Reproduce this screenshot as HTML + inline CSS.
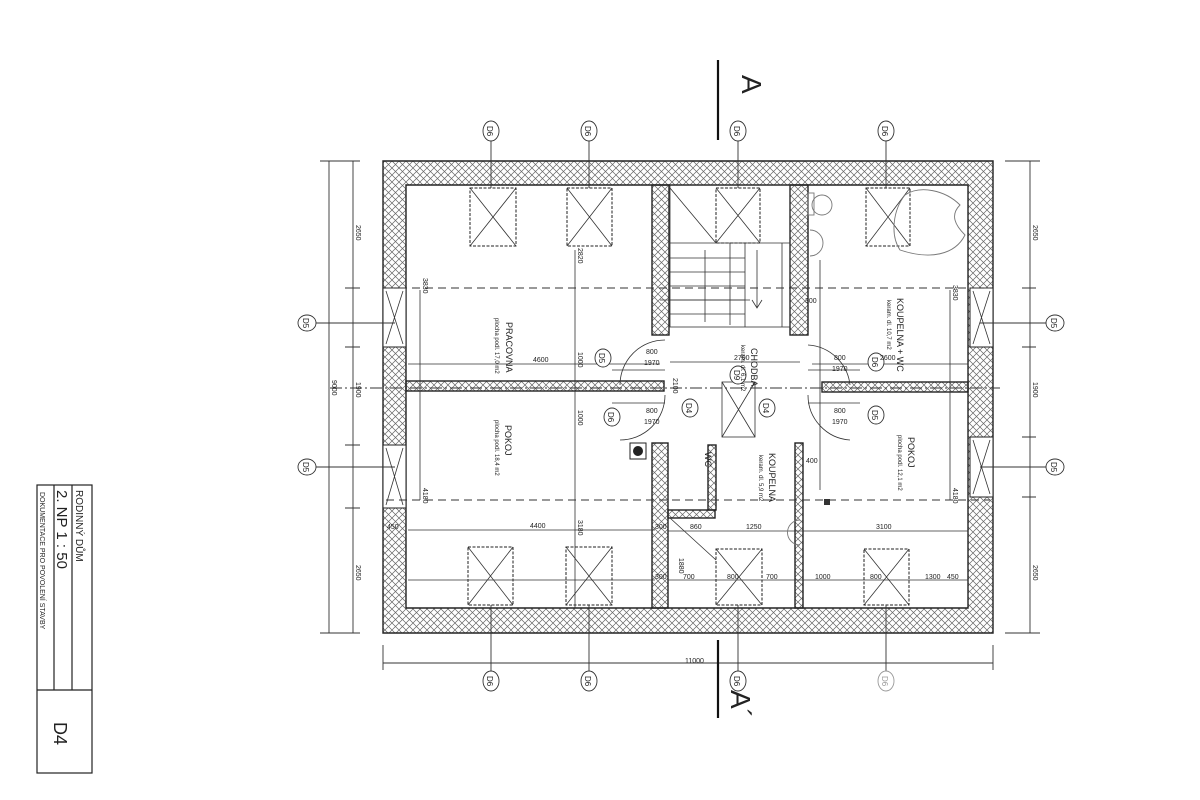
<!DOCTYPE html>
<html><head><meta charset="utf-8"><style>
html,body{margin:0;padding:0;background:#fff;}
svg{display:block;font-family:"Liberation Sans",sans-serif;}
</style></head><body>
<svg width="1200" height="800" viewBox="0 0 1200 800" xmlns="http://www.w3.org/2000/svg">
<defs>
<pattern id="h" width="7" height="7" patternUnits="userSpaceOnUse">
<path d="M0 0L7 7M7 0L0 7" stroke="#666" stroke-width="0.7"/>
</pattern>
</defs>
<rect width="1200" height="800" fill="#fff"/>
<g stroke="#222" stroke-width="1.4" fill="url(#h)">
<path fill-rule="evenodd" d="M383 161H993V633H383Z M406 185H968V608H406Z"/>
<rect x="652" y="185" width="17" height="150"/>
<rect x="790" y="185" width="18" height="150"/>
<rect x="652" y="443" width="16" height="165"/>
<rect x="406" y="381" width="258" height="10"/>
<rect x="822" y="382" width="146" height="10"/>
<rect x="795" y="443" width="8" height="165"/>
<rect x="668" y="510" width="47" height="8"/>
<rect x="708" y="445" width="8" height="65"/>
</g>
<g fill="#fff" stroke="#222" stroke-width="1">
<rect x="383" y="288" width="23" height="59"/>
<rect x="383" y="445" width="23" height="63"/>
<rect x="970" y="288" width="23" height="59"/>
<rect x="970" y="437" width="23" height="60"/>
</g>
<g stroke="#333" stroke-width="0.8" fill="none">
<path d="M386 291L403 344M403 291L386 344M386 448L403 505M403 448L386 505M973 291L990 344M990 291L973 344M973 440L990 494M990 440L973 494"/>
</g>
<g stroke="#222" stroke-width="1" fill="none" stroke-dasharray="3 1.5">
<rect x="470" y="188" width="46" height="58"/><rect x="567" y="188" width="45" height="58"/>
<rect x="716" y="188" width="44" height="55"/><rect x="866" y="188" width="44" height="58"/>
<rect x="468" y="547" width="45" height="58"/><rect x="566" y="547" width="46" height="58"/>
<rect x="716" y="549" width="46" height="56"/><rect x="864" y="549" width="45" height="56"/>
</g>
<g stroke="#333" stroke-width="0.8">
<path d="M470 188L516 246M516 188L470 246M567 188L612 246M612 188L567 246M716 188L760 243M760 188L716 243M866 188L910 246M910 188L866 246"/>
<path d="M468 547L513 605M513 547L468 605M566 547L612 605M612 547L566 605M716 549L762 605M762 549L716 605M864 549L909 605M909 549L864 605"/>
<path d="M670 188L716 243M670 518L716 560"/>
</g>
<g stroke="#333" stroke-width="0.8" fill="none">
<rect x="670" y="185" width="120" height="142"/>
<path d="M670 243H790M670 258H745M670 272H745M670 286H745M670 300H745M670 314H745M745 243V327M730 243V325M705 250V322M782 243V327M752 300L757 308L762 300M757 250V308"/>
<rect x="722" y="382" width="33" height="55"/>
<path d="M722 382L755 437M755 382L722 437"/>
</g>
<g stroke="#333" stroke-width="1" stroke-dasharray="8 5" fill="none">
<path d="M386 288H990M386 500H990"/>
<path d="M330 388H1000" stroke-dasharray="12 3 2 3"/>
</g>
<g stroke="#333" stroke-width="0.8" fill="none">
<path d="M665 340A45 45 0 0 0 620 385M665 395A45 45 0 0 1 620 440M808 345A45 45 0 0 1 850 385M808 395A45 45 0 0 0 850 440"/>
<path d="M612 370H665M612 403H665M808 370H860M808 403H860"/>
<path d="M408 364H660M670 362H800M812 364H968M408 530H655M668 531H968M408 580H655M668 580H968M575 250V608M820 260V490M420 290V500M950 290V500M660 300H750"/>
</g>
<g stroke="#777" stroke-width="0.9" fill="none">
<path d="M905 195C920 185 945 190 960 205C950 215 955 225 965 235C955 255 930 260 900 250C890 235 893 210 905 195Z"/>
<ellipse cx="822" cy="205" rx="10" ry="10"/><rect x="808" y="193" width="6" height="22"/>
<path d="M810 230a10 10 0 0 1 0 26"/>
<path d="M800 520a12 12 0 0 0 0 25"/>
</g>
<rect x="630" y="443" width="16" height="16" fill="#fff" stroke="#222"/>
<circle cx="638" cy="451" r="5" fill="#222"/>
<rect x="824" y="499" width="6" height="6" fill="#333"/>
<g stroke="#333" stroke-width="0.9" fill="none">
<path d="M329 161V633M353 161V633M1030 161V633M383 663H993M383 645V670M993 645V670M320 161H360M320 633H360M1005 161H1040M1005 633H1040M345 288H360M345 347H360M345 445H360M345 508H360M1022 288H1036M1022 347H1036M1022 437H1036M1022 497H1036"/>
<path d="M718 60V140M718 640V718" stroke-width="2.2" stroke="#111"/>
</g>
<g stroke="#333" stroke-width="0.9" fill="#fff">
<path d="M491 140V188M589 140V188M738 140V188M886 140V188M491 605V672M589 605V672M738 605V672M886 605V672M316 323H395M316 467H395M980 323H1046M980 467H1046"/>
<ellipse cx="491" cy="131" rx="8" ry="10"/><ellipse cx="589" cy="131" rx="8" ry="10"/><ellipse cx="738" cy="131" rx="8" ry="10"/><ellipse cx="886" cy="131" rx="8" ry="10"/>
<ellipse cx="491" cy="681" rx="8" ry="10"/><ellipse cx="589" cy="681" rx="8" ry="10"/><ellipse cx="738" cy="681" rx="8" ry="10"/><ellipse cx="886" cy="681" rx="8" ry="10" stroke="#999"/>
<ellipse cx="307" cy="323" rx="9" ry="8"/><ellipse cx="307" cy="467" rx="9" ry="8"/><ellipse cx="1055" cy="323" rx="9" ry="8"/><ellipse cx="1055" cy="467" rx="9" ry="8"/>
<ellipse cx="603" cy="358" rx="8" ry="9"/><ellipse cx="612" cy="417" rx="8" ry="9"/><ellipse cx="876" cy="362" rx="8" ry="9"/><ellipse cx="876" cy="415" rx="8" ry="9"/>
<ellipse cx="690" cy="408" rx="8" ry="9"/><ellipse cx="767" cy="408" rx="8" ry="9"/><ellipse cx="738" cy="375" rx="8" ry="9"/>
</g>
<g fill="#222" font-size="8">
<g font-size="8">
<text transform="translate(487,126) rotate(90)">D6</text><text transform="translate(585,126) rotate(90)">D6</text><text transform="translate(734,126) rotate(90)">D6</text><text transform="translate(882,126) rotate(90)">D6</text>
<text transform="translate(487,676) rotate(90)">D6</text><text transform="translate(585,676) rotate(90)">D6</text><text transform="translate(734,676) rotate(90)">D6</text><text transform="translate(882,676) rotate(90)" fill="#999">D6</text>
<text transform="translate(303,318) rotate(90)">D5</text><text transform="translate(303,462) rotate(90)">D5</text><text transform="translate(1051,318) rotate(90)">D5</text><text transform="translate(1051,462) rotate(90)">D5</text>
<text transform="translate(599,353) rotate(90)">D5</text><text transform="translate(608,412) rotate(90)">D6</text><text transform="translate(872,357) rotate(90)">D6</text><text transform="translate(872,410) rotate(90)">D5</text>
<text transform="translate(686,403) rotate(90)">D4</text><text transform="translate(763,403) rotate(90)">D4</text><text transform="translate(734,370) rotate(90)">D9</text>
</g>
<text transform="translate(742,75) rotate(90)" font-size="28">A</text>
<text transform="translate(731,690) rotate(90)" font-size="28">A´</text>
<g font-size="9">
<text transform="translate(506,322) rotate(90)">PRACOVNA</text>
<text transform="translate(495,318) rotate(90)" font-size="6">plocha podl. 17,0 m2</text>
<text transform="translate(505,425) rotate(90)">POKOJ</text>
<text transform="translate(495,420) rotate(90)" font-size="6">plocha podl. 18,4 m2</text>
<text transform="translate(751,348) rotate(90)">CHODBA</text>
<text transform="translate(741,345) rotate(90)" font-size="6">keram. dl. 6,1 m2</text>
<text transform="translate(897,298) rotate(90)">KOUPELNA + WC</text>
<text transform="translate(887,300) rotate(90)" font-size="6">keram. dl. 10,7 m2</text>
<text transform="translate(908,437) rotate(90)">POKOJ</text>
<text transform="translate(898,435) rotate(90)" font-size="6">plocha podl. 12,1 m2</text>
<text transform="translate(769,453) rotate(90)">KOUPELNA</text>
<text transform="translate(759,455) rotate(90)" font-size="6">keram. dl. 5,9 m2</text>
<text transform="translate(705,452) rotate(90)">WC</text>
</g>
<g font-size="7">
<text x="533" y="362">4600</text><text x="530" y="528">4400</text><text x="734" y="360">2700</text><text x="880" y="360">2600</text>
<text x="646" y="354">800</text><text x="644" y="365">1970</text><text x="646" y="413">800</text><text x="644" y="424">1970</text>
<text x="834" y="360">800</text><text x="832" y="371">1970</text><text x="834" y="413">800</text><text x="832" y="424">1970</text>
<text x="690" y="529">860</text><text x="746" y="529">1250</text><text x="876" y="529">3100</text><text x="655" y="529">300</text><text x="387" y="529">450</text>
<text x="655" y="579">300</text><text x="683" y="579">700</text><text x="727" y="579">800</text><text x="766" y="579">700</text><text x="815" y="579">1000</text><text x="870" y="579">800</text><text x="925" y="579">1300</text><text x="947" y="579">450</text>
<text x="805" y="303">300</text><text x="806" y="463">400</text><text x="685" y="663">11000</text>
<text transform="translate(356,225) rotate(90)">2650</text><text transform="translate(1033,225) rotate(90)">2650</text>
<text transform="translate(356,565) rotate(90)">2650</text><text transform="translate(1033,565) rotate(90)">2650</text>
<text transform="translate(332,380) rotate(90)">9000</text><text transform="translate(356,382) rotate(90)">1900</text><text transform="translate(1033,382) rotate(90)">1900</text>
<text transform="translate(578,248) rotate(90)">2820</text><text transform="translate(578,352) rotate(90)">1000</text><text transform="translate(578,410) rotate(90)">1000</text><text transform="translate(578,520) rotate(90)">3180</text>
<text transform="translate(423,278) rotate(90)">3830</text><text transform="translate(423,488) rotate(90)">4180</text><text transform="translate(953,285) rotate(90)">3830</text><text transform="translate(953,488) rotate(90)">4180</text>
<text transform="translate(673,378) rotate(90)">2100</text><text transform="translate(679,558) rotate(90)">1880</text>
</g>
</g>
<g stroke="#222" stroke-width="1.2" fill="none">
<rect x="37" y="485" width="55" height="288"/>
<path d="M37 690H92M54 485V690M72 485V690"/>
</g>
<g fill="#222">
<text transform="translate(76,490) rotate(90)" font-size="10">RODINNÝ DŮM</text>
<text transform="translate(57,490) rotate(90)" font-size="15">2. NP    1 : 50</text>
<text transform="translate(40,492) rotate(90)" font-size="7">DOKUMENTACE PRO POVOLENÍ STAVBY</text>
<text transform="translate(54,722) rotate(90)" font-size="18">D4</text>
</g>
</svg>
</body></html>
